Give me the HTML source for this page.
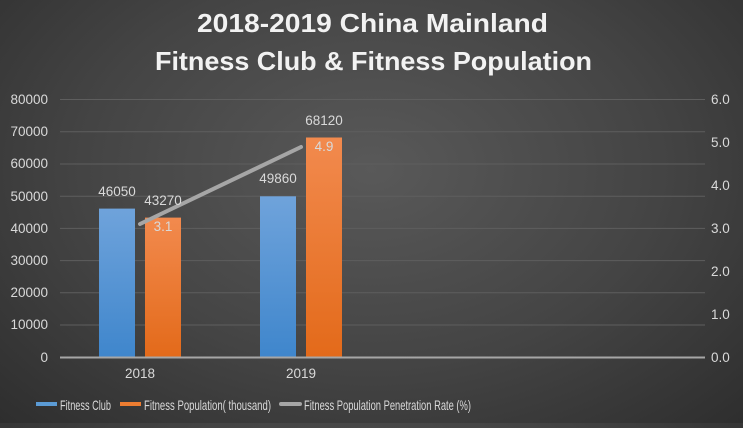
<!DOCTYPE html>
<html><head><style>
body{margin:0;width:743px;height:423px;overflow:hidden;background:radial-gradient(ellipse at 50% 40%,#595959 0%,#444 55%,#2e2e2e 100%);font-family:"Liberation Sans",sans-serif;}
</style></head><body>
<svg width="743" height="423" xmlns="http://www.w3.org/2000/svg" font-family="Liberation Sans, sans-serif">
<defs>
<linearGradient id="b" x1="0" y1="0" x2="0" y2="1"><stop offset="0" stop-color="#6fa3db"/><stop offset="1" stop-color="#3f86cc"/></linearGradient>
<linearGradient id="o" x1="0" y1="0" x2="0" y2="1"><stop offset="0" stop-color="#f28a4e"/><stop offset="1" stop-color="#e36a1a"/></linearGradient>
</defs>
<text x="197" y="32" fill="#f2f2f2" font-size="26" font-weight="bold" textLength="351" lengthAdjust="spacingAndGlyphs">2018-2019 China Mainland</text>
<text x="155" y="70" fill="#f2f2f2" font-size="26" font-weight="bold" textLength="437" lengthAdjust="spacingAndGlyphs">Fitness Club &amp; Fitness Population</text>
<g stroke="#5e5e5e" stroke-width="1">
<line x1="60" x2="705" y1="99.5" y2="99.5"/><line x1="60" x2="705" y1="131.7" y2="131.7"/><line x1="60" x2="705" y1="164" y2="164"/><line x1="60" x2="705" y1="196.2" y2="196.2"/><line x1="60" x2="705" y1="228.4" y2="228.4"/><line x1="60" x2="705" y1="260.6" y2="260.6"/><line x1="60" x2="705" y1="292.8" y2="292.8"/><line x1="60" x2="705" y1="325" y2="325"/>
</g>
<g fill="#d9d9d9" font-size="13.5" text-anchor="end">
<text x="48" y="104">80000</text><text x="48" y="136">70000</text><text x="48" y="168">60000</text><text x="48" y="201">50000</text><text x="48" y="233">40000</text><text x="48" y="265">30000</text><text x="48" y="297">20000</text><text x="48" y="329">10000</text><text x="48" y="362">0</text>
</g>
<g fill="#d9d9d9" font-size="13.5" text-anchor="start">
<text x="711" y="104">6.0</text><text x="711" y="147">5.0</text><text x="711" y="190">4.0</text><text x="711" y="233">3.0</text><text x="711" y="276">2.0</text><text x="711" y="319">1.0</text><text x="711" y="362">0.0</text>
</g>
<rect x="99" y="208.6" width="36" height="148.4" fill="url(#b)"/>
<rect x="145" y="217.6" width="36" height="139.4" fill="url(#o)"/>
<rect x="260" y="196.3" width="36" height="160.7" fill="url(#b)"/>
<rect x="306" y="137.5" width="36" height="219.5" fill="url(#o)"/>
<line x1="60" x2="705" y1="357.5" y2="357.5" stroke="#a6a6a6" stroke-width="2"/>
<line x1="140" y1="224" x2="301" y2="147" stroke="#a6a6a6" stroke-width="4" stroke-linecap="round"/>
<g fill="#d9d9d9" font-size="13.5" text-anchor="middle">
<text x="117" y="196">46050</text><text x="163" y="205">43270</text><text x="163" y="231">3.1</text>
<text x="278" y="183">49860</text><text x="324" y="125">68120</text><text x="324" y="151">4.9</text>
<text x="140" y="378">2018</text><text x="301" y="378">2019</text>
</g>
<rect x="36" y="402" width="21" height="4" fill="#5b9bd5"/>
<text x="60" y="410" fill="#d9d9d9" font-size="14" textLength="51" lengthAdjust="spacingAndGlyphs">Fitness Club</text>
<rect x="120" y="402" width="21" height="4" fill="#ed7d31"/>
<text x="144" y="410" fill="#d9d9d9" font-size="14" textLength="127" lengthAdjust="spacingAndGlyphs">Fitness Population( thousand)</text>
<line x1="281" x2="300" y1="404" y2="404" stroke="#a6a6a6" stroke-width="4" stroke-linecap="round"/>
<text x="304" y="410" fill="#d9d9d9" font-size="14" textLength="167" lengthAdjust="spacingAndGlyphs">Fitness Population Penetration Rate (%)</text>
</svg>
</body></html>
